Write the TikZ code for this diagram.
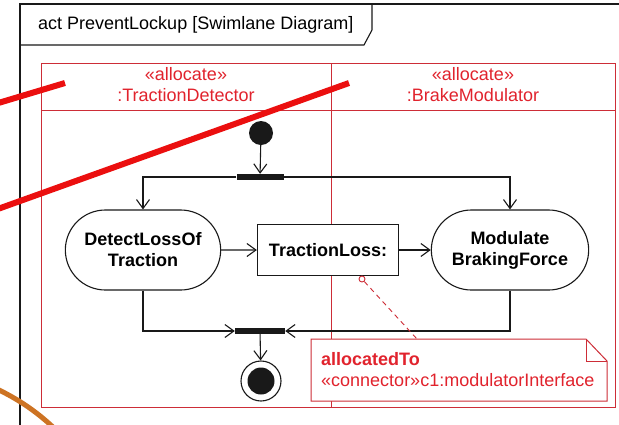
\documentclass[tikz,border=0pt]{standalone}
\usepackage{fontspec}
\setmainfont{Liberation Sans}
\usetikzlibrary{arrows.meta,shapes.misc}

\definecolor{ink}{RGB}{25,25,25}
\definecolor{lanered}{RGB}{205,45,55}
\definecolor{txtred}{RGB}{225,35,45}
\definecolor{markred}{RGB}{235,15,15}
\definecolor{markorange}{RGB}{205,115,35}
\newcommand\diagfont{\fontsize{18}{21}\selectfont}

\tikzset{
  action/.style={rounded rectangle, draw=ink, line width=1.1pt, fill=white,
    minimum width=162pt, minimum height=80pt, align=center, font=\diagfont\bfseries},
  objbox/.style={rectangle, draw=ink, line width=1.3pt, fill=white,
    minimum width=141pt, minimum height=51pt, font=\diagfont\bfseries},
  syncbar/.style={rectangle, fill=ink, minimum height=6pt, inner sep=0pt},
  flow/.style={draw=ink, line width=1.1pt, -{Straight Barb[length=9pt,width=13pt,line width=1.1pt]}},
  lane/.style={draw=lanered, line width=1pt},
  lanelabel/.style={text=txtred, align=center, font=\diagfont, inner sep=0pt},
  reviewstroke/.style={line width=6pt},
}

\begin{document}
\begin{tikzpicture}[x=1pt,y=-1pt]
\useasboundingbox (0,0) rectangle (619,424);
\fill[white] (0,0) rectangle (619,424);

% activity frame and its name tab
\draw[ink, line width=1.1pt] (20,440) -- (20,4) -- (640,4);
\draw[ink, line width=1.1pt] (20,45) -- (364,45) -- (372,30) -- (372,4);
\node[anchor=west, inner sep=0pt, font=\diagfont] (title) at (38,25) {act PreventLockup [Swimlane Diagram]};

% swimlanes
\draw[lane] (41,63) rectangle (615,407);
\draw[lane] (41,110) -- (615,110);
\draw[lane] (331,63) -- (331,407);
\node[lanelabel] (laneA) at (186,85) {«allocate»\\:TractionDetector};
\node[lanelabel] (laneB) at (473,85) {«allocate»\\:BrakeModulator};

% control nodes
\node[circle, fill=ink, minimum size=24pt, inner sep=0pt] (start) at (261,133) {};
\node[syncbar, minimum width=47pt] (fork) at (260,177) {};
\node[syncbar, minimum width=50pt] (join) at (260,331) {};
\node[circle, draw=ink, line width=1.1pt, fill=white, minimum size=40pt, inner sep=0pt] (final) at (261,381) {};
\node[circle, fill=ink, minimum size=27pt, inner sep=0pt] (finaldot) at (final) {};

% actions and object node
\node[action] (detect) at (143,250) {DetectLossOf\\Traction};
\node[objbox] (loss) at (328,250) {TractionLoss:};
\node[action, minimum width=164pt] (modulate) at (510,250) {Modulate\\BrakingForce};

% flows
\draw[flow] (start) -- (fork);
\draw[flow] (fork.west) -| (detect.north);
\draw[flow] (fork.east) -| (modulate.north);
\draw[flow] (detect) -- (loss);
\draw[flow] (loss) -- (modulate);
\draw[flow] (detect.south) |- (join.west);
\draw[flow] (modulate.south) |- (join.east);
\draw[flow] (join) -- (final);

% allocation note
\coordinate (noteattach) at (417,339);
\draw[lanered, line width=1pt, fill=white] (311,339) -- (586,339) -- (607,361) -- (607,401) -- (311,401) -- cycle;
\draw[lanered, line width=1pt] (586,339) -- (586,361) -- (607,361);
\node[anchor=west, align=left, inner sep=0pt, text=txtred, font=\diagfont] (notetext) at (321,370)
  {\textbf{allocatedTo}\\«connector»c1:modulatorInterface};
\node[circle, draw=lanered, line width=0.9pt, minimum size=6pt, inner sep=0pt] (pin) at (362,279) {};
\draw[lanered, line width=0.9pt, dash pattern=on 5pt off 4pt] (pin) -- (noteattach);

% review strokes
\draw[markred, reviewstroke] (-5,104) -- (65,83);
\draw[markred, reviewstroke] (-5,210) -- (349,83);
\draw[markorange, line width=5pt] (-5,388) .. controls (18,399) and (38,412) .. (58,432);
\end{tikzpicture}
\end{document}
